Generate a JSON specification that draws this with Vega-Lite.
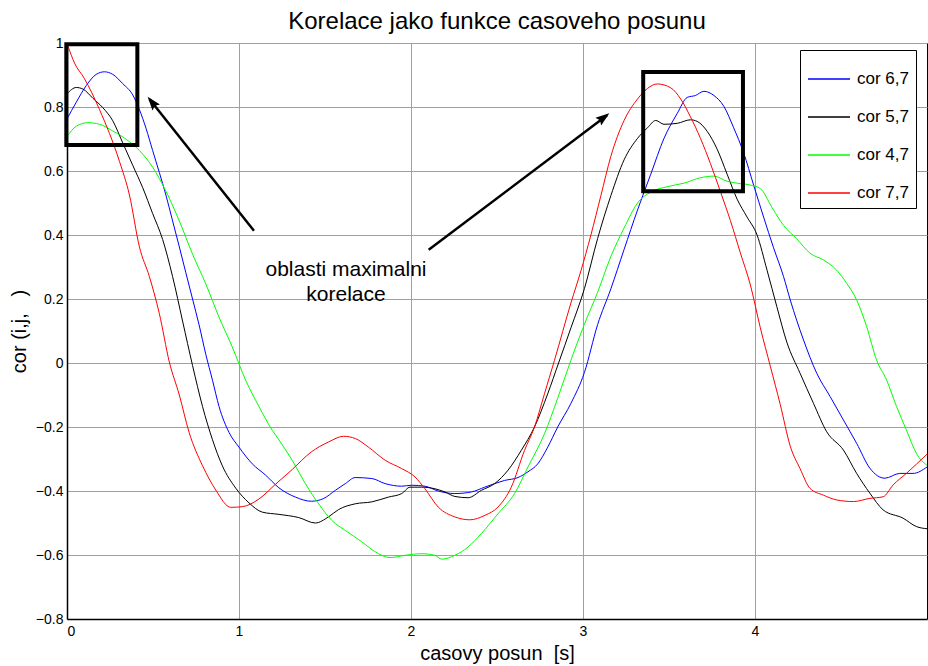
{
"$schema":"https://vega.github.io/schema/vega-lite/v6.json",
"autosize":{"type":"none"},
"padding":{"left":67,"top":43,"right":1,"bottom":47},
"width":860,"height":576,
"config":{"font":"Liberation Sans","view":{"stroke":"black","strokeWidth":1},
"axis":{"domainColor":"black","domainWidth":1.5,"gridColor":"#a0a0a0","gridWidth":1,"gridOpacity":1,"ticks":false,"labelFontSize":14,"labelColor":"black","titleFontSize":20,"titleFontWeight":"normal","titleColor":"black","labelFont":"Liberation Sans","titleFont":"Liberation Sans"},
"legend":{"strokeColor":"black","fillColor":"white","padding":7,"labelFontSize":17,"labelFont":"Liberation Sans","labelColor":"black","symbolSize":1764,"symbolStrokeWidth":1.5,"rowPadding":8,"labelOffset":6}},
"title":{"text":"Korelace jako funkce casoveho posunu","fontSize":24,"fontWeight":"normal","font":"Liberation Sans","anchor":"middle","offset":2,"color":"black"},
"datasets":{
"curves":[
{"s":"cor 6,7","x":0,"y":0.763},{"s":"cor 6,7","x":0.054,"y":0.815},{"s":"cor 6,7","x":0.112,"y":0.867},{"s":"cor 6,7","x":0.17,"y":0.902},{"s":"cor 6,7","x":0.218,"y":0.91},{"s":"cor 6,7","x":0.266,"y":0.902},{"s":"cor 6,7","x":0.324,"y":0.873},{"s":"cor 6,7","x":0.382,"y":0.838},{"s":"cor 6,7","x":0.421,"y":0.792},{"s":"cor 6,7","x":0.459,"y":0.734},{"s":"cor 6,7","x":0.498,"y":0.664},{"s":"cor 6,7","x":0.537,"y":0.595},{"s":"cor 6,7","x":0.575,"y":0.525},{"s":"cor 6,7","x":0.614,"y":0.444},{"s":"cor 6,7","x":0.653,"y":0.363},{"s":"cor 6,7","x":0.691,"y":0.282},{"s":"cor 6,7","x":0.73,"y":0.2},{"s":"cor 6,7","x":0.768,"y":0.119},{"s":"cor 6,7","x":0.807,"y":0.027},{"s":"cor 6,7","x":0.846,"y":-0.054},{"s":"cor 6,7","x":0.884,"y":-0.136},{"s":"cor 6,7","x":0.942,"y":-0.217},{"s":"cor 6,7","x":1.0,"y":-0.263},{"s":"cor 6,7","x":1.077,"y":-0.315},{"s":"cor 6,7","x":1.154,"y":-0.35},{"s":"cor 6,7","x":1.232,"y":-0.39},{"s":"cor 6,7","x":1.328,"y":-0.419},{"s":"cor 6,7","x":1.42,"y":-0.432},{"s":"cor 6,7","x":1.49,"y":-0.424},{"s":"cor 6,7","x":1.56,"y":-0.398},{"s":"cor 6,7","x":1.618,"y":-0.377},{"s":"cor 6,7","x":1.676,"y":-0.358},{"s":"cor 6,7","x":1.772,"y":-0.361},{"s":"cor 6,7","x":1.85,"y":-0.377},{"s":"cor 6,7","x":1.946,"y":-0.385},{"s":"cor 6,7","x":2.004,"y":-0.382},{"s":"cor 6,7","x":2.081,"y":-0.385},{"s":"cor 6,7","x":2.158,"y":-0.4},{"s":"cor 6,7","x":2.255,"y":-0.408},{"s":"cor 6,7","x":2.351,"y":-0.403},{"s":"cor 6,7","x":2.429,"y":-0.388},{"s":"cor 6,7","x":2.544,"y":-0.367},{"s":"cor 6,7","x":2.622,"y":-0.358},{"s":"cor 6,7","x":2.68,"y":-0.34},{"s":"cor 6,7","x":2.737,"y":-0.315},{"s":"cor 6,7","x":2.795,"y":-0.263},{"s":"cor 6,7","x":2.853,"y":-0.2},{"s":"cor 6,7","x":2.93,"y":-0.126},{"s":"cor 6,7","x":3.008,"y":-0.03},{"s":"cor 6,7","x":3.085,"y":0.12},{"s":"cor 6,7","x":3.162,"y":0.232},{"s":"cor 6,7","x":3.239,"y":0.355},{"s":"cor 6,7","x":3.317,"y":0.478},{"s":"cor 6,7","x":3.394,"y":0.59},{"s":"cor 6,7","x":3.471,"y":0.702},{"s":"cor 6,7","x":3.548,"y":0.78},{"s":"cor 6,7","x":3.606,"y":0.83},{"s":"cor 6,7","x":3.654,"y":0.836},{"s":"cor 6,7","x":3.703,"y":0.849},{"s":"cor 6,7","x":3.761,"y":0.836},{"s":"cor 6,7","x":3.819,"y":0.802},{"s":"cor 6,7","x":3.876,"y":0.735},{"s":"cor 6,7","x":3.934,"y":0.657},{"s":"cor 6,7","x":3.992,"y":0.556},{"s":"cor 6,7","x":4.05,"y":0.456},{"s":"cor 6,7","x":4.108,"y":0.36},{"s":"cor 6,7","x":4.166,"y":0.27},{"s":"cor 6,7","x":4.205,"y":0.197},{"s":"cor 6,7","x":4.282,"y":0.072},{"s":"cor 6,7","x":4.359,"y":-0.032},{"s":"cor 6,7","x":4.437,"y":-0.105},{"s":"cor 6,7","x":4.514,"y":-0.178},{"s":"cor 6,7","x":4.591,"y":-0.251},{"s":"cor 6,7","x":4.668,"y":-0.329},{"s":"cor 6,7","x":4.755,"y":-0.36},{"s":"cor 6,7","x":4.842,"y":-0.345},{"s":"cor 6,7","x":4.919,"y":-0.345},{"s":"cor 6,7","x":5.0,"y":-0.325},
{"s":"cor 5,7","x":0,"y":0.841},{"s":"cor 5,7","x":0.054,"y":0.861},{"s":"cor 5,7","x":0.093,"y":0.856},{"s":"cor 5,7","x":0.151,"y":0.827},{"s":"cor 5,7","x":0.208,"y":0.798},{"s":"cor 5,7","x":0.266,"y":0.757},{"s":"cor 5,7","x":0.324,"y":0.688},{"s":"cor 5,7","x":0.382,"y":0.618},{"s":"cor 5,7","x":0.44,"y":0.548},{"s":"cor 5,7","x":0.498,"y":0.467},{"s":"cor 5,7","x":0.556,"y":0.386},{"s":"cor 5,7","x":0.614,"y":0.27},{"s":"cor 5,7","x":0.672,"y":0.131},{"s":"cor 5,7","x":0.73,"y":-0.008},{"s":"cor 5,7","x":0.788,"y":-0.136},{"s":"cor 5,7","x":0.846,"y":-0.24},{"s":"cor 5,7","x":0.903,"y":-0.321},{"s":"cor 5,7","x":0.981,"y":-0.391},{"s":"cor 5,7","x":1.058,"y":-0.437},{"s":"cor 5,7","x":1.135,"y":-0.466},{"s":"cor 5,7","x":1.232,"y":-0.473},{"s":"cor 5,7","x":1.347,"y":-0.483},{"s":"cor 5,7","x":1.444,"y":-0.5},{"s":"cor 5,7","x":1.52,"y":-0.481},{"s":"cor 5,7","x":1.579,"y":-0.458},{"s":"cor 5,7","x":1.676,"y":-0.44},{"s":"cor 5,7","x":1.772,"y":-0.434},{"s":"cor 5,7","x":1.869,"y":-0.419},{"s":"cor 5,7","x":1.946,"y":-0.408},{"s":"cor 5,7","x":1.994,"y":-0.388},{"s":"cor 5,7","x":2.062,"y":-0.388},{"s":"cor 5,7","x":2.139,"y":-0.393},{"s":"cor 5,7","x":2.197,"y":-0.403},{"s":"cor 5,7","x":2.255,"y":-0.417},{"s":"cor 5,7","x":2.332,"y":-0.421},{"s":"cor 5,7","x":2.409,"y":-0.398},{"s":"cor 5,7","x":2.486,"y":-0.377},{"s":"cor 5,7","x":2.564,"y":-0.335},{"s":"cor 5,7","x":2.641,"y":-0.273},{"s":"cor 5,7","x":2.718,"y":-0.2},{"s":"cor 5,7","x":2.795,"y":-0.096},{"s":"cor 5,7","x":2.858,"y":0.0},{"s":"cor 5,7","x":2.93,"y":0.11},{"s":"cor 5,7","x":3.008,"y":0.232},{"s":"cor 5,7","x":3.085,"y":0.389},{"s":"cor 5,7","x":3.162,"y":0.523},{"s":"cor 5,7","x":3.239,"y":0.635},{"s":"cor 5,7","x":3.317,"y":0.702},{"s":"cor 5,7","x":3.375,"y":0.735},{"s":"cor 5,7","x":3.423,"y":0.758},{"s":"cor 5,7","x":3.471,"y":0.746},{"s":"cor 5,7","x":3.548,"y":0.749},{"s":"cor 5,7","x":3.625,"y":0.76},{"s":"cor 5,7","x":3.664,"y":0.755},{"s":"cor 5,7","x":3.722,"y":0.724},{"s":"cor 5,7","x":3.78,"y":0.668},{"s":"cor 5,7","x":3.838,"y":0.59},{"s":"cor 5,7","x":3.896,"y":0.512},{"s":"cor 5,7","x":3.954,"y":0.456},{"s":"cor 5,7","x":4.012,"y":0.4},{"s":"cor 5,7","x":4.07,"y":0.29},{"s":"cor 5,7","x":4.127,"y":0.176},{"s":"cor 5,7","x":4.185,"y":0.065},{"s":"cor 5,7","x":4.262,"y":-0.032},{"s":"cor 5,7","x":4.34,"y":-0.126},{"s":"cor 5,7","x":4.417,"y":-0.215},{"s":"cor 5,7","x":4.514,"y":-0.272},{"s":"cor 5,7","x":4.591,"y":-0.345},{"s":"cor 5,7","x":4.668,"y":-0.407},{"s":"cor 5,7","x":4.745,"y":-0.459},{"s":"cor 5,7","x":4.861,"y":-0.485},{"s":"cor 5,7","x":4.938,"y":-0.511},{"s":"cor 5,7","x":5.0,"y":-0.518},
{"s":"cor 4,7","x":0,"y":0.708},{"s":"cor 4,7","x":0.054,"y":0.74},{"s":"cor 4,7","x":0.122,"y":0.751},{"s":"cor 4,7","x":0.189,"y":0.746},{"s":"cor 4,7","x":0.266,"y":0.725},{"s":"cor 4,7","x":0.344,"y":0.699},{"s":"cor 4,7","x":0.421,"y":0.664},{"s":"cor 4,7","x":0.498,"y":0.612},{"s":"cor 4,7","x":0.575,"y":0.537},{"s":"cor 4,7","x":0.653,"y":0.444},{"s":"cor 4,7","x":0.73,"y":0.34},{"s":"cor 4,7","x":0.807,"y":0.247},{"s":"cor 4,7","x":0.884,"y":0.143},{"s":"cor 4,7","x":0.961,"y":0.05},{"s":"cor 4,7","x":1.039,"y":-0.054},{"s":"cor 4,7","x":1.116,"y":-0.136},{"s":"cor 4,7","x":1.193,"y":-0.21},{"s":"cor 4,7","x":1.232,"y":-0.24},{"s":"cor 4,7","x":1.309,"y":-0.304},{"s":"cor 4,7","x":1.386,"y":-0.377},{"s":"cor 4,7","x":1.463,"y":-0.44},{"s":"cor 4,7","x":1.54,"y":-0.492},{"s":"cor 4,7","x":1.618,"y":-0.523},{"s":"cor 4,7","x":1.714,"y":-0.559},{"s":"cor 4,7","x":1.811,"y":-0.596},{"s":"cor 4,7","x":1.878,"y":-0.608},{"s":"cor 4,7","x":1.965,"y":-0.601},{"s":"cor 4,7","x":2.062,"y":-0.596},{"s":"cor 4,7","x":2.139,"y":-0.601},{"s":"cor 4,7","x":2.178,"y":-0.613},{"s":"cor 4,7","x":2.255,"y":-0.601},{"s":"cor 4,7","x":2.332,"y":-0.575},{"s":"cor 4,7","x":2.409,"y":-0.533},{"s":"cor 4,7","x":2.506,"y":-0.471},{"s":"cor 4,7","x":2.602,"y":-0.408},{"s":"cor 4,7","x":2.68,"y":-0.325},{"s":"cor 4,7","x":2.776,"y":-0.221},{"s":"cor 4,7","x":2.853,"y":-0.11},{"s":"cor 4,7","x":2.93,"y":0.009},{"s":"cor 4,7","x":3.008,"y":0.121},{"s":"cor 4,7","x":3.085,"y":0.221},{"s":"cor 4,7","x":3.162,"y":0.333},{"s":"cor 4,7","x":3.239,"y":0.422},{"s":"cor 4,7","x":3.317,"y":0.5},{"s":"cor 4,7","x":3.394,"y":0.534},{"s":"cor 4,7","x":3.49,"y":0.551},{"s":"cor 4,7","x":3.587,"y":0.562},{"s":"cor 4,7","x":3.683,"y":0.579},{"s":"cor 4,7","x":3.761,"y":0.584},{"s":"cor 4,7","x":3.838,"y":0.568},{"s":"cor 4,7","x":3.896,"y":0.562},{"s":"cor 4,7","x":3.973,"y":0.556},{"s":"cor 4,7","x":4.031,"y":0.545},{"s":"cor 4,7","x":4.1,"y":0.485},{"s":"cor 4,7","x":4.166,"y":0.43},{"s":"cor 4,7","x":4.243,"y":0.388},{"s":"cor 4,7","x":4.32,"y":0.343},{"s":"cor 4,7","x":4.398,"y":0.322},{"s":"cor 4,7","x":4.475,"y":0.29},{"s":"cor 4,7","x":4.533,"y":0.249},{"s":"cor 4,7","x":4.591,"y":0.197},{"s":"cor 4,7","x":4.649,"y":0.114},{"s":"cor 4,7","x":4.707,"y":0.009},{"s":"cor 4,7","x":4.765,"y":-0.053},{"s":"cor 4,7","x":4.823,"y":-0.136},{"s":"cor 4,7","x":4.88,"y":-0.209},{"s":"cor 4,7","x":4.938,"y":-0.282},{"s":"cor 4,7","x":5.0,"y":-0.32},
{"s":"cor 7,7","x":0.006,"y":0.99},{"s":"cor 7,7","x":0.044,"y":0.937},{"s":"cor 7,7","x":0.1,"y":0.89},{"s":"cor 7,7","x":0.189,"y":0.792},{"s":"cor 7,7","x":0.305,"y":0.63},{"s":"cor 7,7","x":0.363,"y":0.525},{"s":"cor 7,7","x":0.421,"y":0.363},{"s":"cor 7,7","x":0.479,"y":0.27},{"s":"cor 7,7","x":0.537,"y":0.154},{"s":"cor 7,7","x":0.595,"y":0.003},{"s":"cor 7,7","x":0.653,"y":-0.1},{"s":"cor 7,7","x":0.71,"y":-0.217},{"s":"cor 7,7","x":0.788,"y":-0.321},{"s":"cor 7,7","x":0.865,"y":-0.397},{"s":"cor 7,7","x":0.952,"y":-0.451},{"s":"cor 7,7","x":1.019,"y":-0.449},{"s":"cor 7,7","x":1.116,"y":-0.425},{"s":"cor 7,7","x":1.21,"y":-0.38},{"s":"cor 7,7","x":1.309,"y":-0.333},{"s":"cor 7,7","x":1.42,"y":-0.278},{"s":"cor 7,7","x":1.52,"y":-0.247},{"s":"cor 7,7","x":1.608,"y":-0.229},{"s":"cor 7,7","x":1.676,"y":-0.236},{"s":"cor 7,7","x":1.753,"y":-0.263},{"s":"cor 7,7","x":1.85,"y":-0.304},{"s":"cor 7,7","x":1.946,"y":-0.33},{"s":"cor 7,7","x":2.023,"y":-0.356},{"s":"cor 7,7","x":2.081,"y":-0.393},{"s":"cor 7,7","x":2.158,"y":-0.45},{"s":"cor 7,7","x":2.255,"y":-0.481},{"s":"cor 7,7","x":2.342,"y":-0.49},{"s":"cor 7,7","x":2.43,"y":-0.476},{"s":"cor 7,7","x":2.506,"y":-0.45},{"s":"cor 7,7","x":2.583,"y":-0.388},{"s":"cor 7,7","x":2.66,"y":-0.273},{"s":"cor 7,7","x":2.718,"y":-0.2},{"s":"cor 7,7","x":2.776,"y":-0.096},{"s":"cor 7,7","x":2.834,"y":0.008},{"s":"cor 7,7","x":2.93,"y":0.188},{"s":"cor 7,7","x":2.988,"y":0.288},{"s":"cor 7,7","x":3.046,"y":0.4},{"s":"cor 7,7","x":3.104,"y":0.523},{"s":"cor 7,7","x":3.162,"y":0.646},{"s":"cor 7,7","x":3.239,"y":0.758},{"s":"cor 7,7","x":3.317,"y":0.825},{"s":"cor 7,7","x":3.375,"y":0.858},{"s":"cor 7,7","x":3.432,"y":0.872},{"s":"cor 7,7","x":3.51,"y":0.86},{"s":"cor 7,7","x":3.568,"y":0.825},{"s":"cor 7,7","x":3.625,"y":0.769},{"s":"cor 7,7","x":3.683,"y":0.702},{"s":"cor 7,7","x":3.741,"y":0.623},{"s":"cor 7,7","x":3.8,"y":0.534},{"s":"cor 7,7","x":3.857,"y":0.445},{"s":"cor 7,7","x":3.915,"y":0.344},{"s":"cor 7,7","x":3.973,"y":0.244},{"s":"cor 7,7","x":4.031,"y":0.11},{"s":"cor 7,7","x":4.089,"y":-0.01},{"s":"cor 7,7","x":4.147,"y":-0.13},{"s":"cor 7,7","x":4.205,"y":-0.26},{"s":"cor 7,7","x":4.262,"y":-0.33},{"s":"cor 7,7","x":4.32,"y":-0.392},{"s":"cor 7,7","x":4.398,"y":-0.413},{"s":"cor 7,7","x":4.475,"y":-0.428},{"s":"cor 7,7","x":4.572,"y":-0.433},{"s":"cor 7,7","x":4.668,"y":-0.423},{"s":"cor 7,7","x":4.745,"y":-0.418},{"s":"cor 7,7","x":4.803,"y":-0.381},{"s":"cor 7,7","x":4.88,"y":-0.345},{"s":"cor 7,7","x":5.0,"y":-0.285}
],
"boxes":[{"x1":-0.004,"x2":0.409,"y1":0.681,"y2":0.996},{"x1":3.35,"x2":3.93,"y1":0.537,"y2":0.909}],
"arrows":[{"x1":1.087,"y1":0.413,"x2":0.48,"y2":0.824},{"x1":2.103,"y1":0.354,"x2":3.14,"y2":0.774}],
"heads":[{"x":0.5,"y":0.811,"a":321.7},{"x":3.113,"y":0.764,"a":53}],
"labels":[{"x":1.622,"y":0.291,"t":"oblasti maximalni"},{"x":1.622,"y":0.213,"t":"korelace"}]
},
"layer":[
{"data":{"name":"curves"},"mark":{"type":"line","strokeWidth":1,"clip":true,"interpolate":"monotone"},
"encoding":{
"x":{"field":"x","type":"quantitative","scale":{"domain":[0,5],"nice":false,"zero":false},"axis":{"values":[0,1,2,3,4],"format":"d","title":"casovy posun\u00a0\u00a0[s]","labelPadding":5,"titlePadding":5,"grid":true}},
"y":{"field":"y","type":"quantitative","scale":{"domain":[-0.8,1],"nice":false,"zero":false},"axis":{"values":[-0.8,-0.6,-0.4,-0.2,0,0.2,0.4,0.6,0.8,1],"format":".1~f","title":"cor (i,j,\u00a0\u00a0\u00a0)","labelPadding":4,"titlePadding":6,"grid":true}},
"stroke":{"field":"s","type":"nominal","scale":{"domain":["cor 6,7","cor 5,7","cor 4,7","cor 7,7"],"range":["#0000ff","#000000","#00ff00","#ff0000"]},
"legend":{"title":"\u00a0\u00a0\u00a0\u00a0","titleOrient":"right","titleFontSize":40,"titlePadding":0,"orient":"none","legendX":733,"legendY":7,"symbolType":"stroke"}}}},
{"data":{"name":"boxes"},"mark":{"type":"rect","fillOpacity":0,"stroke":"black","strokeWidth":4},
"encoding":{"x":{"field":"x1","type":"quantitative"},"x2":{"field":"x2"},"y":{"field":"y1","type":"quantitative"},"y2":{"field":"y2"}}},
{"data":{"name":"arrows"},"mark":{"type":"rule","stroke":"black","strokeWidth":2.5},
"encoding":{"x":{"field":"x1","type":"quantitative"},"x2":{"field":"x2"},"y":{"field":"y1","type":"quantitative"},"y2":{"field":"y2"}}},
{"data":{"name":"heads"},"mark":{"type":"point","filled":true,"fill":"black","opacity":1,"stroke":null,"shape":"M0,-1L0.55,0.6L0,0.35L-0.55,0.6Z","size":300},
"encoding":{"x":{"field":"x","type":"quantitative"},"y":{"field":"y","type":"quantitative"},"angle":{"field":"a","type":"quantitative","scale":null}}},
{"data":{"name":"labels"},"mark":{"type":"text","fontSize":21,"font":"Liberation Sans","color":"black","align":"center","baseline":"middle"},
"encoding":{"x":{"field":"x","type":"quantitative"},"y":{"field":"y","type":"quantitative"},"text":{"field":"t"}}}
]
}
